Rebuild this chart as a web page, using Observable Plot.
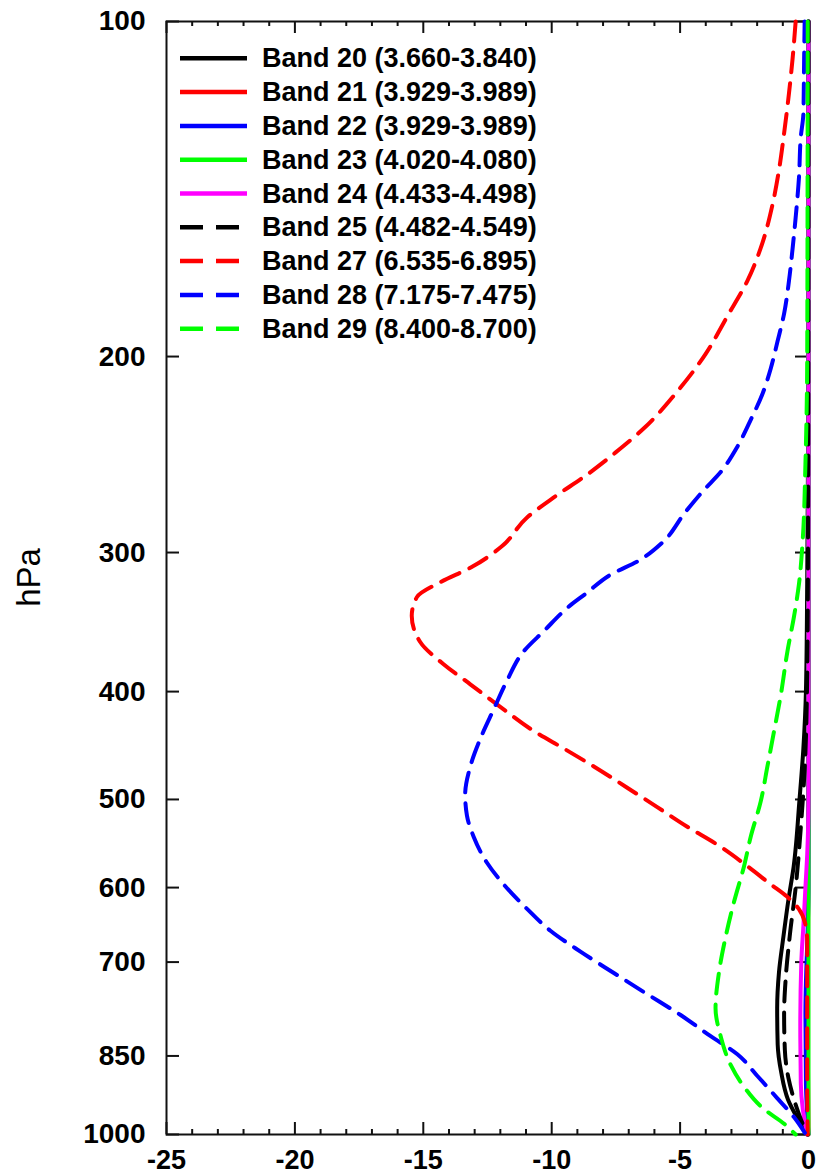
<!DOCTYPE html>
<html>
<head>
<meta charset="utf-8">
<script src="https://cdn.jsdelivr.net/npm/d3@7"></script>
<script src="https://cdn.jsdelivr.net/npm/@observablehq/plot@0.6"></script>
<style>
html, body { margin: 0; padding: 0; background: #fff; overflow: hidden; }
#chart { position: relative; width: 816px; height: 1176px; }
</style>
</head>
<body>
<div id="chart"></div>
<script>
// ---- tick values ----
const pressureTicks = [100, 200, 300, 400, 500, 600, 700, 850, 1000];
const xMajorTicks = [-25, -20, -15, -10, -5, 0];
const xMinorTicks = [-24, -23, -22, -21, -19, -18, -17, -16, -14, -13, -12, -11, -9, -8, -7, -6, -4, -3, -2, -1];
const yAxisLabel = "hPa";

// ---- legend / series metadata ----
const bandNames = [
  "Band 20 (3.660-3.840)",
  "Band 21 (3.929-3.989)",
  "Band 22 (3.929-3.989)",
  "Band 23 (4.020-4.080)",
  "Band 24 (4.433-4.498)",
  "Band 25 (4.482-4.549)",
  "Band 27 (6.535-6.895)",
  "Band 28 (7.175-7.475)",
  "Band 29 (8.400-8.700)"
];
const bandColors = ["#000000", "#ff0000", "#0000ff", "#00ff00", "#ff00ff", "#000000", "#ff0000", "#0000ff", "#00ff00"];
const bandDashed = [false, false, false, false, false, true, true, true, true];

// ---- series values (pressure hPa, value) ----
const band20P = [100, 250, 320, 400, 450, 500, 575, 615, 665, 715, 770, 830, 880, 930, 965, 1000];
const band20V = [0, -0.02, -0.05, -0.1, -0.2, -0.35, -0.58, -0.78, -0.98, -1.15, -1.22, -1.2, -1.06, -0.8, -0.45, -0.05];

const band21P = [100, 500, 800, 1000];
const band21V = [0, 0, -0.03, 0];

const band22P = [100, 600, 780, 900, 1000];
const band22V = [0, 0, -0.12, -0.1, 0];

const band23P = [100, 1000];
const band23V = [0, 0];

const band24P = [100, 500, 560, 600, 650, 700, 800, 900, 950, 1000];
const band24V = [0, 0, -0.05, -0.12, -0.2, -0.28, -0.32, -0.3, -0.22, -0.05];

const band25P = [100, 300, 400, 470, 530, 600, 660, 720, 780, 840, 890, 940, 975, 1000];
const band25V = [0, -0.02, -0.06, -0.15, -0.3, -0.5, -0.72, -0.88, -0.95, -0.92, -0.78, -0.5, -0.25, -0.03];

const band27P = [100, 108, 116, 126, 136, 146, 158, 171, 184, 199, 215, 232, 244, 256, 267, 279, 296, 309, 319, 329, 342, 361, 378, 394, 413, 434, 450, 467, 488, 508, 529, 549, 574, 596, 611, 627, 646, 670, 800, 900, 1000];
const band27V = [-0.5, -0.62, -0.76, -0.95, -1.15, -1.40, -1.79, -2.38, -3.16, -4.01, -5.11, -6.41, -7.52, -8.69, -9.85, -10.96, -11.93, -13.1, -14.34, -15.25, -15.45, -15.12, -14.21, -13.17, -11.99, -10.70, -9.53, -8.36, -7.06, -5.89, -4.72, -3.55, -2.38, -1.47, -0.85, -0.38, -0.13, -0.05, -0.05, -0.05, -0.03];

const band28P = [100, 108, 121, 127, 138, 150, 160, 171, 183, 194, 205, 216, 228, 241, 254, 264, 276, 294, 305, 314, 327, 335, 353, 368, 391, 415, 441, 467, 495, 517, 540, 570, 596, 627, 656, 685, 716, 748, 781, 816, 847, 886, 928, 965, 1000];
const band28V = [-0.15, -0.17, -0.2, -0.30, -0.37, -0.50, -0.62, -0.76, -0.95, -1.21, -1.47, -1.79, -2.25, -2.77, -3.42, -4.1, -4.8, -5.7, -6.6, -7.7, -8.7, -9.3, -10.31, -11.09, -11.74, -12.26, -12.78, -13.17, -13.37, -13.30, -13.04, -12.52, -11.87, -10.96, -10.05, -8.88, -7.58, -6.28, -4.98, -3.81, -2.77, -1.99, -1.21, -0.56, -0.1];

const band29P = [100, 200, 250, 291, 320, 342, 368, 403, 434, 467, 502, 540, 574, 618, 665, 716, 770, 816, 866, 906, 949, 978, 1000];
const band29V = [-0.03, -0.05, -0.12, -0.22, -0.37, -0.56, -0.82, -1.08, -1.34, -1.60, -1.86, -2.25, -2.51, -2.90, -3.23, -3.49, -3.62, -3.42, -3.03, -2.51, -1.73, -0.95, -0.5];

const bandP = [band20P, band21P, band22P, band23P, band24P, band25P, band27P, band28P, band29P];
const bandV = [band20V, band21V, band22V, band23V, band24V, band25V, band27V, band28V, band29V];

const bands = bandNames.map((name, i) => ({
  name, color: bandColors[i], dashed: bandDashed[i],
  data: bandP[i].map((p, j) => ({p, v: bandV[i][j]}))
}));

// ---- layout ----
const W = 816, H = 1176;
const mL = 166, mR = 8, mT = 21, mB = 42;
const innerW = W - mL - mR, innerH = H - mT - mB;
const FONT = "'Liberation Sans', Arial, Helvetica, sans-serif";
const axisColor = "#111";

const chart = Plot.plot({
  width: W, height: H,
  marginLeft: mL, marginRight: mR, marginTop: mT, marginBottom: mB,
  style: {fontFamily: FONT, background: "#fff", color: "#000"},
  x: {domain: [-25, 0]},
  y: {type: "log", domain: [100, 1000], reverse: true},
  marks: [
    Plot.frame({stroke: axisColor, strokeWidth: 2}),
    Plot.tickX(xMajorTicks, {x: d => d, insetTop: innerH - 12, stroke: axisColor, strokeWidth: 2}),
    Plot.tickX(xMajorTicks, {x: d => d, insetBottom: innerH - 12, stroke: axisColor, strokeWidth: 2}),
    Plot.tickX(xMinorTicks, {x: d => d, insetTop: innerH - 5, stroke: axisColor, strokeWidth: 2}),
    Plot.tickX(xMinorTicks, {x: d => d, insetBottom: innerH - 5, stroke: axisColor, strokeWidth: 2}),
    Plot.tickY(pressureTicks, {y: d => d, insetRight: innerW - 13, stroke: axisColor, strokeWidth: 2}),
    Plot.tickY(pressureTicks, {y: d => d, insetLeft: innerW - 13, stroke: axisColor, strokeWidth: 2}),
    Plot.axisX(xMajorTicks, {anchor: "bottom", tickSize: 0, tickPadding: 15, tickFormat: d => String(d),
      fontSize: 27, fontWeight: "bold", fill: "#000", label: null}),
    Plot.axisY(pressureTicks, {anchor: "left", tickSize: 0, tickPadding: 21, tickFormat: d => String(d),
      fontSize: 28, fontWeight: "bold", fill: "#000", label: null}),
    ...bands.map(b => Plot.line(b.data, {
      x: "v", y: "p", stroke: b.color, strokeWidth: 4,
      strokeDasharray: b.dashed ? "20,11" : null, curve: "monotone-y"
    }))
  ]
});

document.getElementById("chart").appendChild(chart);

// ---- y-axis title and in-frame legend ----
const svg = d3.select(chart);
svg.append("text")
  .attr("transform", `translate(28,${mT + innerH / 2}) rotate(-90)`)
  .attr("text-anchor", "middle")
  .attr("dominant-baseline", "central")
  .style("font-family", FONT)
  .style("font-size", "33px")
  .style("font-weight", "normal")
  .attr("fill", "#000")
  .text(yAxisLabel);

const legend = svg.append("g").attr("class", "legend");
const row0 = 58.3, rowStep = 33.8;
bands.forEach((b, i) => {
  const y = row0 + i * rowStep;
  legend.append("line")
    .attr("x1", 180).attr("x2", 247).attr("y1", y).attr("y2", y)
    .attr("stroke", b.color).attr("stroke-width", 4.5)
    .attr("stroke-dasharray", b.dashed ? "23,13" : null);
  legend.append("text")
    .attr("x", 262).attr("y", y + 9)
    .attr("text-anchor", "start")
    .style("font-family", FONT)
    .style("font-size", "27px")
    .style("font-weight", "bold")
    .attr("fill", "#000")
    .text(b.name);
});
</script>
</body>
</html>
